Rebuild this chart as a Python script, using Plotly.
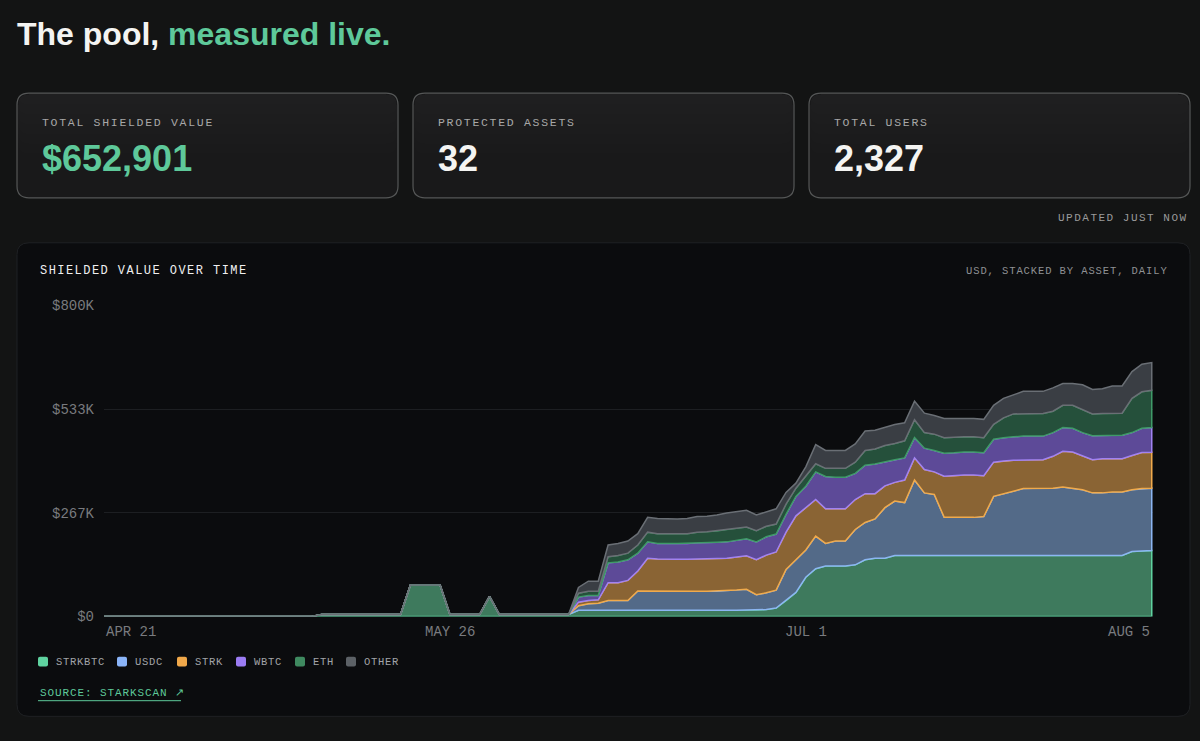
import numpy as np
import pandas as pd
import plotly.graph_objects as go

W, H = 1200, 741

dates = pd.date_range("2025-04-21", "2025-08-05", freq="D")

# daily shielded value per asset, thousands of USD
strkbtc_k = [
    0, 0, 0, 0, 0, 0, 0, 0, 0, 0,
    0, 0, 0, 0, 0, 0, 0, 0, 0, 0,
    0, 0, 5, 5, 5, 5, 5, 5, 5, 5,
    5, 81, 81, 81, 81, 5, 5, 5, 5, 52,
    5, 5, 5, 5, 5, 5, 5, 5, 16, 16,
    16, 16, 16, 16, 16, 16, 16, 16, 16, 16,
    16, 16, 16, 16, 16, 17, 17, 18, 22, 41,
    62, 101, 123, 130, 130, 130, 133, 146, 150, 150,
    157, 157, 157, 157, 157, 157, 157, 157, 157, 157,
    157, 157, 157, 157, 157, 157, 157, 157, 157, 157,
    157, 157, 157, 157, 167, 169, 169.8,
]
usdc_k = [
    0, 0, 0, 0, 0, 0, 0, 0, 0, 0,
    0, 0, 0, 0, 0, 0, 0, 0, 0, 0,
    0, 0, 0, 0, 0, 0, 0, 0, 0, 0,
    0, 0, 0, 0, 0, 0, 0, 0, 0, 0,
    0, 0, 0, 0, 0, 0, 0, 0, 12, 17,
    18, 25, 25, 25, 50, 50, 49, 49, 49, 49,
    49, 49, 49, 51, 52, 53, 39, 43, 46, 80,
    84, 70, 84, 58, 64, 64, 91, 96, 101, 130,
    140, 136, 194, 161, 157, 98, 98, 98, 98, 100,
    152, 159, 165, 172, 173, 173, 173, 176, 173, 169,
    161, 161, 163, 163, 159, 160, 160.3,
]
strk_k = [
    0, 0, 0, 0, 0, 0, 0, 0, 0, 0,
    0, 0, 0, 0, 0, 0, 0, 0, 0, 0,
    0, 0, 0, 0, 0, 0, 0, 0, 0, 0,
    0, 0, 0, 0, 0, 0, 0, 0, 0, 0,
    0, 0, 0, 0, 0, 0, 0, 0, 9, 8,
    9, 46, 46, 52, 51, 84, 83, 82, 82, 82,
    83, 83, 84, 83, 85, 86, 90, 97, 98, 96,
    113, 109, 94, 89, 83, 83, 77, 74, 65, 56,
    48, 58, 57, 60, 58, 106, 107, 109, 109, 105,
    88, 84, 80, 74, 73, 73, 82, 92, 93, 86,
    85, 88, 86, 86, 88, 93, 92.1,
]
wbtc_k = [
    0, 0, 0, 0, 0, 0, 0, 0, 0, 0,
    0, 0, 0, 0, 0, 0, 0, 0, 0, 0,
    0, 0, 0, 0, 0, 0, 0, 0, 0, 0,
    0, 0, 0, 0, 0, 0, 0, 0, 0, 0,
    0, 0, 0, 0, 0, 0, 0, 0, 13, 13,
    11, 51, 53, 53, 46, 42, 40, 41, 41, 41,
    42, 42, 42, 42, 43, 44, 46, 47, 46, 46,
    50, 55, 71, 83, 81, 81, 67, 73, 76, 61,
    58, 57, 52, 55, 55, 59, 59, 59, 59, 59,
    59, 60, 60, 61, 61, 61, 61, 61, 61, 61,
    62, 60, 60, 60, 59, 62, 63.9,
]
eth_k = [
    0, 0, 0, 0, 0, 0, 0, 0, 0, 0,
    0, 0, 0, 0, 0, 0, 0, 0, 0, 0,
    0, 0, 0, 0, 0, 0, 0, 0, 0, 0,
    0, 0, 0, 0, 0, 0, 0, 0, 0, 0,
    0, 0, 0, 0, 0, 0, 0, 0, 10, 11,
    11, 16, 17, 17, 21, 25, 25, 25, 25, 25,
    27, 28, 29, 32, 31, 30, 29, 27, 26, 26,
    21, 25, 21, 21, 23, 23, 29, 38, 39, 43,
    42, 44, 46, 40, 42, 40, 40, 39, 39, 39,
    38, 51, 59, 58, 58, 58, 55, 57, 59, 59,
    56, 56, 57, 57, 88, 94, 95.7,
]
other_k = [
    0, 0, 0, 0, 0, 0, 0, 0, 0, 0,
    0, 0, 0, 0, 0, 0, 0, 0, 0, 0,
    0, 0, 0, 0, 0, 0, 0, 0, 0, 0,
    0, 0, 0, 0, 0, 0, 0, 0, 0, 0,
    0, 0, 0, 0, 0, 0, 0, 0, 15, 26,
    26, 30, 31, 31, 29, 38, 39, 38, 38, 39,
    40, 40, 41, 42, 42, 43, 40, 38, 39, 30,
    13, 25, 49, 46, 46, 46, 47, 50, 48, 47,
    49, 46, 48, 50, 48, 49, 48, 47, 47, 47,
    49, 50, 50, 57, 57, 57, 60, 56, 56, 64,
    63, 64, 70, 70, 69, 71, 71.101,
]

asset_names = ["STRKBTC", "USDC", "STRK", "WBTC", "ETH", "OTHER"]
asset_values = [strkbtc_k, usdc_k, strk_k, wbtc_k, eth_k, other_k]

# swatch / stroke / fill colours per asset
swatch = ["#5fd3a0", "#8ab4f8", "#f0a84a", "#9b7cf3", "#3f8a60", "#5c6166"]
stroke = ["#5fd3a0", "#8cb6f2", "#f0aa4c", "#a182f2", "#3f9a68", "#6a6f75"]
fills = ["#3e7a5d", "#536a88", "#8a6434", "#5d4a98", "#25503b", "#3a3e44"]

ytick_vals = [0, 800000 / 3, 1600000 / 3, 800000]
ytick_text = ["$0", "$267K", "$533K", "$800K"]
xtick_dates = ["2025-04-21", "2025-05-26", "2025-07-01", "2025-08-05"]
xtick_text = ["APR 21", "MAY 26", "JUL 1", "AUG 5"]
xtick_anchor = ["left", "center", "center", "right"]

cards = [("TOTAL SHIELDED VALUE", "$652,901", "#5ec99a"),
         ("PROTECTED ASSETS", "32", "#f4f4f2"),
         ("TOTAL USERS", "2,327", "#f4f4f2")]

MONO = "Liberation Mono"
SANS = "Liberation Sans"
TICK_GREY = "#797b7f"


def px(x):
    return x / W


def py(y):
    return 1 - y / H


def rounded_rect(x0, y0, x1, y1, r):
    # path in paper coords, built from pixel positions
    pts = [
        f"M {px(x0 + r)} {py(y0)}",
        f"L {px(x1 - r)} {py(y0)}",
        f"Q {px(x1)} {py(y0)} {px(x1)} {py(y0 + r)}",
        f"L {px(x1)} {py(y1 - r)}",
        f"Q {px(x1)} {py(y1)} {px(x1 - r)} {py(y1)}",
        f"L {px(x0 + r)} {py(y1)}",
        f"Q {px(x0)} {py(y1)} {px(x0)} {py(y1 - r)}",
        f"L {px(x0)} {py(y0 + r)}",
        f"Q {px(x0)} {py(y0)} {px(x0 + r)} {py(y0)}",
        "Z",
    ]
    return " ".join(pts)


def spaced(s, sp):
    return f'<span style="letter-spacing:{sp}px">{s}</span>'


fig = go.Figure()

# stacked areas, each band drawn as its own closed polygon
lower = np.zeros(len(dates))
xs = list(dates) + list(dates[::-1])
for i, vals in enumerate(asset_values):
    upper = lower + np.array(vals) * 1000
    fig.add_trace(go.Scatter(
        x=xs,
        y=list(upper) + list(lower[::-1]),
        mode="lines",
        fill="toself",
        fillcolor=fills[i],
        line=dict(color=stroke[i], width=1.5),
        name=asset_names[i],
        hoverinfo="skip",
        showlegend=False,
    ))
    lower = upper

shapes = []
annotations = []

# chart panel
shapes.append(dict(type="path", path=rounded_rect(17, 241, 1190, 725, 12),
                   xref="paper", yref="paper", fillcolor="#0b0c0e",
                   line=dict(color="#1f2124", width=1), layer="below"))

# stat cards
card_x = [17, 413, 809]
for (label, value, color), x0 in zip(cards, card_x):
    shapes.append(dict(type="path", path=rounded_rect(x0, 88, x0 + 381, 195, 12),
                       xref="paper", yref="paper", fillcolor="#19191a",
                       line=dict(color="#555757", width=1.2), layer="below"))
    # soft lighter top, stacked thin veils
    for k in range(6):
        shapes.append(dict(type="path",
                           path=rounded_rect(x0 + 1, 89, x0 + 380, 100 + 10 * k, 11),
                           xref="paper", yref="paper",
                           fillcolor="rgba(255,255,255,0.009)",
                           line=dict(width=0), layer="below"))
    annotations.append(dict(x=px(x0 + 23), y=py(118), xref="paper", yref="paper",
                            text=spaced(label, 1.7), showarrow=False,
                            xanchor="left", yanchor="middle",
                            font=dict(family=MONO, size=11.5, color="#a8a8a8")))
    annotations.append(dict(x=px(x0 + 23), y=py(155), xref="paper", yref="paper",
                            text=f"<b>{value}</b>", showarrow=False,
                            xanchor="left", yanchor="middle",
                            font=dict(family=SANS, size=36, color=color)))

# headline
annotations.append(dict(x=px(15), y=py(28), xref="paper", yref="paper",
                        text="<b>The pool, </b><b style='color:#5ec99a'>measured live.</b>",
                        showarrow=False, xanchor="left", yanchor="middle",
                        font=dict(family=SANS, size=32, color="#f4f4f2")))
annotations.append(dict(x=px(1190), y=py(216), xref="paper", yref="paper",
                        text=spaced("UPDATED JUST NOW", 1.5), showarrow=False,
                        xanchor="right", yanchor="middle",
                        font=dict(family=MONO, size=11, color="#9a9a9a")))
annotations.append(dict(x=px(38), y=py(270), xref="paper", yref="paper",
                        text=spaced("SHIELDED VALUE OVER TIME", 1.45), showarrow=False,
                        xanchor="left", yanchor="middle",
                        font=dict(family=MONO, size=12, color="#f0f0f0")))
annotations.append(dict(x=px(1170), y=py(270), xref="paper", yref="paper",
                        text=spaced("USD, STACKED BY ASSET, DAILY", 0.9), showarrow=False,
                        xanchor="right", yanchor="middle",
                        font=dict(family=MONO, size=10.5, color="#8f9194")))

# x tick labels
for d, t, a in zip(xtick_dates, xtick_text, xtick_anchor):
    annotations.append(dict(x=d, y=py(639), xref="x", yref="paper", text=t,
                            showarrow=False, xanchor=a, yanchor="middle",
                            font=dict(family=MONO, size=14, color=TICK_GREY)))

# legend
legend_x = [38, 117, 177, 236, 295, 346]
for name, col, lx in zip(asset_names, swatch, legend_x):
    shapes.append(dict(type="path", path=rounded_rect(lx, 664, lx + 10, 674, 2),
                       xref="paper", yref="paper", fillcolor=col, line=dict(width=0)))
    annotations.append(dict(x=px(lx + 16), y=py(669), xref="paper", yref="paper",
                            text=spaced(name, 0.7), showarrow=False,
                            xanchor="left", yanchor="middle",
                            font=dict(family=MONO, size=10.5, color="#a2a4a8")))

# source link
annotations.append(dict(x=px(38), y=py(701), xref="paper", yref="paper",
                        text=spaced("SOURCE: STARKSCAN ↗", 0.9), showarrow=False,
                        xanchor="left", yanchor="middle",
                        font=dict(family=MONO, size=11, color="#5ec99a")))
shapes.append(dict(type="line", x0=px(38), x1=px(181), y0=py(709), y1=py(709),
                   xref="paper", yref="paper", line=dict(color="#5ec99a", width=1)))

fig.update_layout(
    width=W,
    height=H,
    margin=dict(l=0, r=0, t=0, b=0),
    paper_bgcolor="#131414",
    plot_bgcolor="rgba(0,0,0,0)",
    showlegend=False,
    shapes=shapes,
    annotations=annotations,
    xaxis=dict(
        domain=[px(104), px(1153)],
        range=[pd.Timestamp("2025-04-21"), pd.Timestamp("2025-08-05 03:00")],
        showgrid=False, zeroline=False, showline=False,
        showticklabels=False, ticks="",
    ),
    yaxis=dict(
        domain=[py(623), py(305)],
        range=[0, 800000],
        tickvals=ytick_vals,
        ticktext=ytick_text,
        showgrid=True, gridcolor="#1d1f22", gridwidth=1,
        zeroline=False, showline=False, ticks="",
        ticklabelstandoff=9,
        tickfont=dict(family=MONO, size=14, color=TICK_GREY),
    ),
)

# pin the figure to the window corner so the page is exactly the viewport
pin_js = (
    "document.body.style.margin='0';"
    "document.body.style.background='#131414';"
    "document.documentElement.style.overflow='hidden';"
    "var gd=document.getElementsByClassName('plotly-graph-div')[0];"
    "gd.style.position='fixed';gd.style.left='0';gd.style.top='0';"
)
fig.write_html("out.html", config={"displayModeBar": False}, post_script=pin_js)
